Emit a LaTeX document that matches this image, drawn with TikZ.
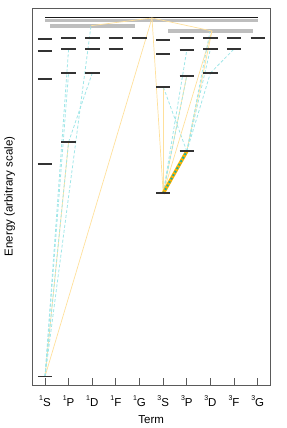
\documentclass[tikz,border=0pt]{standalone}
\usepackage{fontspec}
\setmainfont{Liberation Sans}
\definecolor{cyl}{RGB}{160,230,232}
\definecolor{yel}{RGB}{255,224,155}
\definecolor{amber}{RGB}{255,178,0}
\definecolor{tealdot}{RGB}{25,175,160}
\definecolor{bandgray}{RGB}{190,190,190}
\definecolor{framegray}{RGB}{90,90,90}
\newcommand\supz[1]{\raisebox{5.8bp}{\fontsize{7bp}{8bp}\selectfont #1}}
\begin{document}
\begin{tikzpicture}[x=1bp,y=-1bp,
  lvl/.style={line width=1.7bp,draw=black!80},
  cyline/.style={draw=cyl,line width=0.8bp,dash pattern=on 3bp off 2bp},
  yline/.style={draw=yel,line width=0.7bp},
  band/.style={draw=bandgray,line width=3.6bp},
  frm/.style={draw=framegray,line width=0.9bp},
  lab/.style={font=\fontsize{11.5bp}{13bp}\selectfont,inner sep=0pt}]
\useasboundingbox (0,0) rectangle (287,428);
% level positions
\coordinate (g) at (45,376.5);
\coordinate (s2) at (45,163.7); \coordinate (s3) at (45,79); \coordinate (s4) at (45,51); \coordinate (s5) at (45,38.7);
\coordinate (p2) at (68.6,142); \coordinate (p3) at (68.6,72.7); \coordinate (p4) at (68.6,49); \coordinate (p5) at (68.6,37.7);
\coordinate (d3) at (92.3,73); \coordinate (d4) at (92.3,49); \coordinate (d5) at (92.3,37.7);
\coordinate (f4) at (115.9,49); \coordinate (f5) at (115.9,37.7);
\coordinate (g5) at (139.5,37.7);
\coordinate (S2) at (163.2,193.3); \coordinate (S3) at (163.2,86.7); \coordinate (S4) at (163.2,53.7); \coordinate (S5) at (163.2,40);
\coordinate (P2) at (186.8,151.3); \coordinate (P3) at (186.8,75.7); \coordinate (P4) at (186.8,50); \coordinate (P5) at (186.8,38);
\coordinate (D3) at (210.4,73); \coordinate (D4) at (210.4,49); \coordinate (D5) at (210.4,37.7);
\coordinate (F4) at (234,49); \coordinate (F5) at (234,37.7);
\coordinate (G5) at (257.7,37.7);
\coordinate (ion) at (152,18);
\coordinate (xa) at (91,25.7);
\coordinate (xb) at (212,31);
\coordinate (xc) at (210,31.7);
% frame and ticks
\draw[frm] (32,8.3) rectangle (270.5,385);
\foreach \x in {45,68.6,92.3,115.9,139.5,163.2,186.8,210.4,234,257.7}
  \draw[frm] (\x,385) -- (\x,378);
% gray bands and limit
\draw[band] (45,20.4) -- (257.7,20.4);
\draw[band] (50,25.8) -- (135,25.8);
\draw[band] (168.3,30.9) -- (252.7,30.9);
\draw[line width=1.3bp,draw=black!90] (45,17.5) -- (257.7,17.5);
% singlet transitions
\draw[yline] (g) -- (ion);
\draw[yline] (g) -- (p2);
\draw[yline] (ion) -- (xa);
\draw[cyline] (g) -- (p2);
\draw[cyline] (g) -- (p3);
\draw[cyline] (g) -- (p4);
\draw[cyline] (g) -- (xa);
\draw[cyline] (p2) -- (d3);
% triplet transitions
\draw[yline] (S2) -- (ion);
\draw[yline] (S2) -- (S3);
\draw[yline] (S2) -- (xb);
\draw[yline] (S2) -- (P3);
\draw[yline] (ion) -- (xb);
\draw[yline] (xb) -- (P2);
\draw[cyline] (S2) -- (P3);
\draw[cyline] (S2) -- (P4);
\draw[cyline] (P2) -- (S3);
\draw[cyline] (P2) -- (D3);
\draw[cyline] (P2) -- (D4);
\draw[cyline] (P2) -- (xc);
\draw[cyline] (D3) -- (F4);
\draw[draw=amber,line width=3.4bp] (S2) -- (P2);
\draw[draw=tealdot,line width=2bp,dash pattern=on 1.8bp off 2.2bp] (S2) -- (P2);
% levels
\foreach \n in {g,s2,s3,s4,s5,p2,p3,p4,p5,d3,d4,d5,f4,f5,g5,S2,S3,S4,S5,P2,P3,P4,P5,D3,D4,D5,F4,F5,G5}
  \draw[lvl] ([xshift=-7.2bp]\n) -- ([xshift=7.2bp]\n);
% tick labels
\node[lab,anchor=base] (l1) at (45,406) {\supz{1}S};
\node[lab,anchor=base] (l2) at (68.6,406) {\supz{1}P};
\node[lab,anchor=base] (l3) at (92.3,406) {\supz{1}D};
\node[lab,anchor=base] (l4) at (115.9,406) {\supz{1}F};
\node[lab,anchor=base] (l5) at (139.5,406) {\supz{1}G};
\node[lab,anchor=base] (l6) at (163.2,406) {\supz{3}S};
\node[lab,anchor=base] (l7) at (186.8,406) {\supz{3}P};
\node[lab,anchor=base] (l8) at (210.4,406) {\supz{3}D};
\node[lab,anchor=base] (l9) at (234,406) {\supz{3}F};
\node[lab,anchor=base] (l10) at (257.7,406) {\supz{3}G};
\node[lab,anchor=base] (xl) at (151.25,423.3) {Term};
\node[lab,anchor=base,rotate=90] (yl) at (12.6,196.5) {Energy (arbitrary scale)};
\end{tikzpicture}
\end{document}
